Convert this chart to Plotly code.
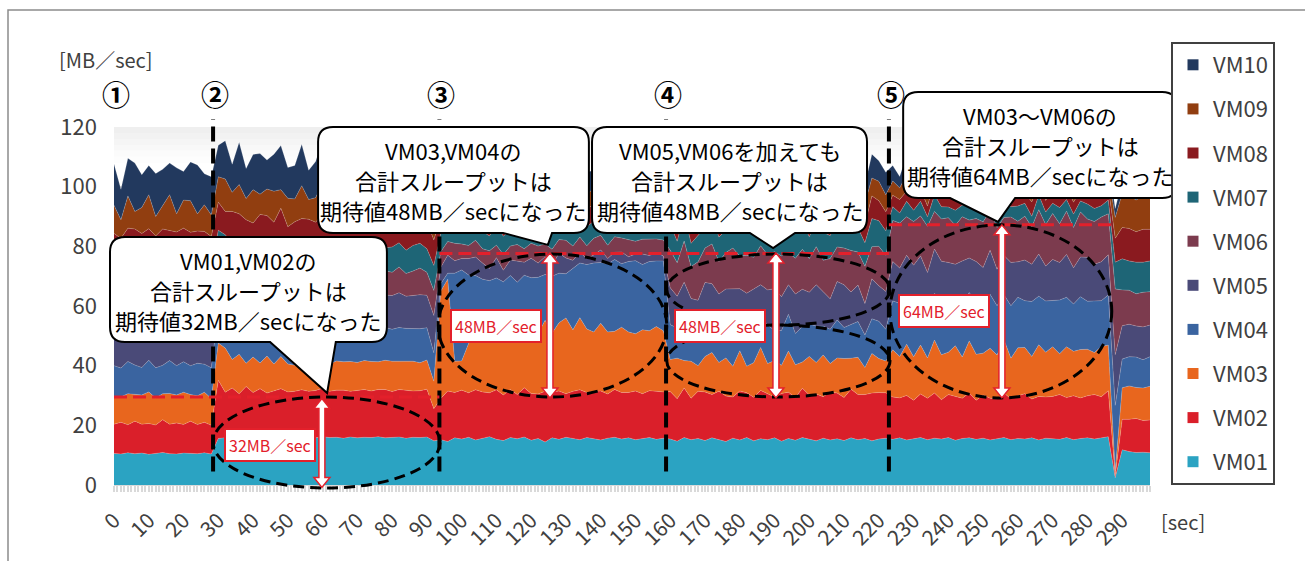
import plotly.graph_objects as go

# ---- data: per-VM throughput [MB/sec], sampled every 2 sec -------------------
seconds = list(range(0, 300, 2))

vm01 = ([10.6, 10.4, 10.8, 10.5, 10.7, 10.3, 10.6, 10.9, 10.5, 10.4, 10.7, 10.6, 10.5, 10.8, 10.4]
        + [15.6, 15.9, 16.1, 15.8, 16.0, 15.7, 16.2, 15.9, 15.8, 16.0, 16.1, 15.7, 15.9, 16.0, 15.8, 16.2,
           15.9, 16.0, 15.7, 16.1, 15.8, 16.0, 15.9, 16.2, 15.8, 15.9, 16.1, 15.7, 16.0, 15.9, 16.1, 14.8]
        + [15.2, 14.6, 15.8, 15.4, 16.0, 15.1, 15.7, 16.2, 15.3, 14.9, 15.9, 15.5, 16.1, 15.0, 15.6, 14.4,
           15.8, 15.3, 16.0, 15.5, 15.2, 15.9, 15.6, 15.1, 15.7, 16.0, 15.4, 15.8, 15.2, 15.6, 15.9, 15.3, 15.7]
        + [15.4, 14.7, 15.9, 15.2, 15.6, 14.9, 15.8, 15.3, 14.6, 15.7, 15.1, 15.9, 14.8, 15.5, 15.2, 15.8,
           14.7, 15.6, 15.0, 15.9, 15.3, 14.8, 15.7, 15.1, 15.5, 14.9, 15.8, 15.2, 15.6, 14.8, 15.4, 15.7]
        + [15.3, 15.8, 15.1, 15.6, 15.9, 15.2, 15.7, 15.4, 15.9, 15.0, 15.6, 15.8, 15.3, 15.7, 15.1, 15.5,
           15.9, 15.2, 15.6, 15.4, 15.8, 15.1, 15.7, 15.5, 15.3, 15.9, 15.2, 15.6, 15.8, 15.4, 15.7, 16.2]
        + [2.4] + [11.8, 11.2, 10.9, 11.0, 10.8])

vm02 = ([9.8, 10.6, 9.4, 10.9, 9.7, 10.3, 9.5, 11.0, 9.9, 10.4, 9.6, 10.8, 9.8, 10.2, 9.6]
        + [19.5, 15.2, 16.4, 14.8, 17.0, 15.3, 16.1, 14.9, 15.8, 16.3, 15.1, 15.7, 16.0, 15.4, 15.9, 16.2,
           15.5, 15.8, 16.1, 15.3, 15.9, 16.0, 15.6, 15.8, 16.2, 15.4, 15.9, 16.1, 15.5, 15.7, 16.0, 10.8]
        + [13.8, 16.9, 15.2, 16.4, 14.9, 16.8, 15.5, 14.7, 16.6, 15.3, 16.1, 14.8, 16.5, 15.7, 14.9, 17.0,
           15.4, 16.2, 14.6, 15.9, 16.7, 15.1, 15.8, 16.4, 14.8, 16.0, 15.6, 15.2, 16.3, 15.0, 15.7, 16.1, 15.5]
        + [15.9, 14.2, 16.6, 13.9, 15.8, 16.3, 14.5, 16.1, 15.2, 13.8, 16.4, 15.0, 14.6, 16.2, 15.4, 13.7,
           16.0, 15.5, 14.3, 16.5, 14.9, 15.7, 13.9, 16.1, 15.3, 14.4, 16.3, 15.1, 14.7, 16.0, 15.6, 15.2]
        + [14.2, 13.4, 14.9, 12.8, 14.6, 13.9, 15.1, 13.2, 14.4, 14.8, 13.5, 15.0, 13.1, 14.5, 14.0, 13.3,
           14.9, 13.7, 14.3, 15.2, 13.0, 14.6, 13.8, 14.2, 15.0, 13.4, 14.7, 13.6, 14.1, 14.9, 13.9, 15.4]
        + [0.8] + [10.2, 10.8, 11.4, 10.6, 11.0])

vm03 = ([9.2, 8.6, 10.4, 8.9, 9.8, 10.6, 9.1, 8.7, 10.3, 9.4, 10.8, 8.9, 9.6, 10.1, 9.0]
        + [12.5, 14.8, 9.6, 13.2, 7.8, 11.9, 8.6, 12.4, 9.0, 10.8, 9.4, 8.7, 9.9, 9.3, 9.6, 10.1,
           9.2, 9.8, 9.5, 10.0, 9.4, 9.7, 9.9, 9.3, 9.8, 10.2, 9.5, 9.6, 10.0, 9.4, 9.8, 9.2]
        + [36.0, 37.5, 10.5, 9.8, 16.5, 18.8, 19.6, 18.2, 20.4, 19.1, 18.6, 20.8, 19.4, 21.6, 20.2, 23.8,
           19.7, 22.9, 25.4, 20.6, 24.2, 21.3, 19.9, 22.7, 20.8, 19.5, 21.9, 20.3, 19.2, 21.4, 20.1, 21.7, 20.5]
        + [10.8, 13.6, 9.2, 12.4, 8.6, 11.9, 14.1, 9.7, 12.8, 10.3, 13.5, 8.9, 11.6, 14.4, 10.1, 12.2,
           9.4, 13.8, 11.0, 8.8, 12.9, 10.6, 14.0, 9.5, 11.8, 13.1, 10.4, 12.5, 9.1, 13.3, 11.4, 10.7]
        + [15.8, 13.9, 17.2, 14.6, 16.4, 13.5, 17.8, 15.1, 14.2, 16.9, 13.8, 17.5, 15.4, 14.0, 16.7, 14.8,
           17.9, 13.6, 16.1, 15.5, 14.3, 17.3, 15.0, 16.6, 13.7, 17.0, 14.9, 16.2, 15.6, 14.1, 16.8, 15.3]
        + [1.5] + [10.6, 11.2, 10.4, 10.9, 11.3])

vm04 = ([10.4, 9.6, 10.8, 9.9, 9.2, 10.6, 10.1, 9.5, 11.0, 9.8, 10.2, 9.7, 10.9, 9.4, 10.3]
        + [10.8, 11.4, 10.6, 11.2, 11.0, 10.7, 11.5, 10.9, 11.3, 10.8, 11.1, 11.6, 10.9, 11.2, 10.7, 11.4,
           11.0, 10.8, 11.3, 11.1, 10.9, 11.5, 10.8, 11.2, 11.0, 10.7, 11.3, 11.1, 10.9, 11.4, 10.8, 9.5]
        + [2.5, 2.0, 29.5, 30.5, 23.0, 19.5, 18.2, 19.4, 17.1, 18.8, 19.6, 16.9, 18.3, 17.2, 18.9, 15.4,
           19.1, 16.6, 14.8, 20.5, 18.3, 21.6, 23.1, 20.4, 22.8, 24.1, 21.3, 23.6, 24.5, 21.9, 23.2, 22.0, 23.4]
        + [11.6, 10.2, 12.8, 9.8, 12.1, 10.9, 11.4, 12.6, 10.3, 11.8, 9.9, 12.4, 11.1, 10.6, 12.9, 10.1,
           11.7, 12.3, 10.5, 11.9, 10.8, 12.2, 9.7, 11.5, 12.7, 10.4, 11.2, 12.0, 10.9, 11.6, 12.5, 10.6]
        + [16.4, 17.8, 15.2, 18.3, 16.0, 17.1, 15.6, 18.6, 16.7, 15.3, 17.9, 16.2, 17.4, 15.8, 18.1, 16.5,
           15.1, 17.6, 16.9, 15.7, 18.4, 16.3, 17.2, 15.5, 18.0, 16.6, 15.9, 17.7, 16.1, 17.3, 15.4, 16.8]
        + [22.0] + [9.6, 9.8, 10.2, 9.5, 9.9])

vm05 = ([11.2, 10.6, 11.5, 10.9, 11.8, 10.4, 11.1, 11.6, 10.7, 11.3, 10.5, 11.9, 10.8, 11.2, 11.0]
        + [11.2, 10.6, 11.8, 10.9, 11.4, 11.0, 10.7, 11.6, 11.1, 10.8, 11.5, 11.2, 10.6, 11.3, 11.7, 10.9,
           11.1, 11.4, 10.8, 11.6, 11.0, 10.7, 11.5, 11.2, 10.9, 11.3, 11.6, 10.8, 11.1, 11.4, 10.9, 12.5]
        + [5.5, 6.0, 4.2, 3.8, 5.5, 6.2, 5.4, 4.1, 6.8, 3.9, 5.2, 7.1, 4.4, 6.5, 4.8, 5.9,
           3.6, 6.7, 5.3, 2.8, 3.6, 1.9, 2.7, 4.2, 1.8, 2.4, 3.9, 1.6, 2.2, 3.5, 2.0, 2.8, 1.7]
        + [12.4, 10.6, 13.5, 11.2, 9.8, 13.9, 11.7, 10.3, 12.8, 14.2, 10.9, 12.1, 13.6, 10.4, 11.8, 14.0,
           11.3, 9.9, 13.2, 12.5, 10.7, 13.8, 11.5, 10.2, 12.9, 14.3, 11.0, 12.2, 10.5, 13.4, 11.9, 12.7]
        + [13.2, 11.8, 14.6, 12.4, 13.9, 11.5, 14.9, 12.7, 13.4, 12.0, 14.3, 11.6, 13.7, 12.9, 14.8, 12.2,
           13.1, 14.5, 11.9, 13.6, 12.5, 14.1, 11.7, 13.8, 12.6, 14.4, 12.1, 13.3, 14.7, 12.3, 13.0, 13.5]
        + [17.0] + [11.2, 10.9, 10.4, 11.0, 10.6])

vm06 = ([10.8, 11.4, 10.5, 11.7, 10.9, 11.2, 10.6, 11.5, 11.0, 10.7, 11.6, 10.9, 11.3, 10.6, 11.1]
        + [7.6, 8.4, 7.9, 8.8, 7.4, 8.2, 8.6, 7.7, 8.3, 8.9, 7.5, 8.1, 8.7, 7.8, 8.4, 7.6,
           8.5, 8.0, 7.7, 8.8, 7.9, 8.3, 7.5, 8.6, 8.1, 7.8, 8.7, 7.6, 8.2, 8.9, 7.7, 8.4]
        + [5.2, 4.6, 5.8, 4.9, 4.4, 5.6, 4.8, 5.9, 4.2, 5.3, 4.7, 5.5, 4.5, 5.0, 5.7, 4.3,
           5.4, 4.6, 5.9, 4.8, 5.1, 4.4, 5.6, 4.9, 4.5, 5.2, 4.7, 5.8, 4.3, 5.0, 5.5, 4.6, 5.3]
        + [12.6, 11.2, 13.8, 10.7, 12.9, 11.5, 13.3, 10.9, 12.2, 13.6, 11.0, 12.7, 10.6, 13.1, 11.8, 12.4,
           13.7, 10.8, 12.0, 13.4, 11.3, 12.8, 10.5, 13.5, 11.6, 12.3, 13.9, 11.1, 12.5, 10.8, 13.2, 12.1]
        + [13.8, 15.1, 12.9, 14.6, 13.4, 15.5, 12.6, 14.2, 15.0, 13.1, 14.8, 12.7, 14.4, 15.3, 13.3, 14.0,
           12.8, 15.2, 13.6, 14.7, 12.5, 14.9, 13.9, 15.4, 13.0, 14.5, 13.5, 15.1, 12.9, 14.3, 15.0, 13.7]
        + [22.0] + [12.0, 11.4, 10.8, 11.6, 11.2])

vm07 = ([11.0, 10.7, 11.6, 10.8, 11.3, 10.9, 11.5, 10.6, 11.2, 11.4, 10.8, 11.1, 10.7, 11.5, 10.9]
        + [8.2, 7.6, 8.7, 7.9, 8.4, 7.5, 8.8, 8.1, 7.7, 8.5, 8.0, 7.6, 8.9, 7.8, 8.3, 8.6,
           7.5, 8.2, 8.7, 7.9, 8.4, 7.6, 8.8, 8.0, 7.7, 8.5, 8.1, 7.8, 8.6, 8.3, 7.9, 8.4]
        + [6.3, 5.1, 6.7, 5.6, 5.3, 6.4, 5.8, 5.0, 6.6, 6.1, 5.4, 5.9, 6.5, 5.2, 6.0, 5.7,
           5.3, 6.8, 5.5, 6.2, 5.1, 6.4, 5.7, 5.4, 6.6, 5.9, 5.2, 6.3, 5.6, 6.0, 5.3, 6.5, 5.8]
        + [8.6, 7.2, 9.4, 7.8, 8.9, 6.9, 9.1, 8.2, 7.5, 9.6, 8.0, 7.4, 9.2, 8.5, 7.1, 8.8,
           9.5, 7.6, 8.3, 9.0, 7.3, 8.7, 9.3, 7.7, 8.4, 7.0, 9.1, 8.1, 7.9, 9.4, 8.6, 8.2]
        + [4.6, 3.4, 5.2, 3.8, 4.9, 3.2, 5.5, 4.1, 3.6, 5.0, 3.9, 4.7, 3.3, 5.3, 4.0, 3.7,
           4.8, 3.5, 5.1, 4.3, 3.6, 4.9, 4.2, 3.4, 5.4, 3.9, 4.5, 3.7, 5.0, 4.4, 3.8, 4.6]
        + [9.0] + [10.4, 9.8, 10.6, 10.1, 10.3])

vm08 = ([11.3, 10.8, 11.1, 12.2, 10.9, 11.6, 11.0, 12.0, 10.7, 11.4, 11.9, 10.8, 11.5, 11.2, 11.0]
        + [9.4, 7.8, 10.6, 8.3, 9.9, 7.5, 10.2, 8.8, 9.1, 10.7, 7.9, 9.6, 8.4, 10.3, 7.7, 9.8,
           8.9, 10.5, 8.1, 9.3, 10.0, 7.6, 9.7, 8.6, 10.4, 8.0, 9.5, 8.7, 10.1, 7.9, 9.2, 8.5]
        + [5.4, 6.0, 5.1, 6.3, 5.7, 5.2, 6.1, 5.5, 5.3, 6.4, 5.8, 5.0, 6.2, 5.6, 5.4, 5.9,
           6.3, 5.1, 5.7, 6.0, 5.3, 6.1, 5.5, 5.8, 5.2, 6.3, 5.6, 5.4, 6.0, 5.7, 5.1, 5.9, 5.5]
        + [6.2, 7.4, 5.8, 6.9, 7.6, 5.5, 6.7, 7.2, 6.0, 7.8, 6.4, 5.7, 7.1, 6.6, 7.5, 5.9,
           6.8, 7.3, 6.1, 7.0, 5.6, 7.7, 6.3, 6.9, 7.4, 5.8, 6.5, 7.2, 6.0, 7.6, 6.7, 6.4]
        + [3.8, 4.5, 3.4, 4.8, 4.1, 3.6, 4.6, 3.9, 4.3, 3.5, 4.9, 4.0, 3.7, 4.4, 3.3, 4.7,
           4.2, 3.8, 4.5, 3.6, 4.8, 4.1, 3.9, 4.6, 3.4, 4.3, 4.0, 3.7, 4.5, 4.2, 3.6, 4.4]
        + [8.0] + [10.5, 10.9, 10.2, 11.0, 10.6])

vm09 = ([9.5, 6.2, 10.8, 5.9, 8.7, 11.4, 6.5, 7.8, 12.0, 6.1, 9.4, 10.6, 5.8, 8.9, 7.2]
        + [8.5, 10.9, 6.4, 9.8, 7.1, 11.2, 6.8, 8.9, 10.4, 6.2, 9.5, 7.7, 11.0, 6.6, 8.2, 10.6,
           7.3, 9.9, 6.5, 8.8, 10.8, 7.0, 9.1, 6.9, 10.3, 7.5, 8.4, 11.1, 6.7, 9.6, 7.8, 8.6]
        + [5.6, 4.9, 5.8, 5.2, 5.0, 5.9, 5.3, 4.7, 5.7, 5.1, 6.0, 4.8, 5.4, 5.8, 5.0, 5.2,
           5.7, 4.9, 5.9, 5.3, 5.1, 4.7, 5.6, 6.0, 5.0, 5.4, 5.8, 4.8, 5.2, 5.7, 5.1, 4.9, 5.3]
        + [5.8, 6.9, 5.2, 7.1, 6.3, 5.5, 7.4, 6.0, 5.7, 6.8, 5.4, 7.2, 6.1, 5.6, 6.6, 7.3,
           5.3, 6.4, 7.0, 5.9, 6.2, 7.5, 5.6, 6.7, 5.1, 6.9, 6.3, 5.8, 7.1, 6.0, 6.5, 5.7]
        + [4.8, 3.9, 5.6, 4.3, 5.1, 3.7, 5.8, 4.5, 4.0, 5.4, 3.8, 5.0, 4.6, 5.9, 4.1, 4.7,
           3.6, 5.3, 4.4, 5.7, 3.9, 5.2, 4.2, 4.9, 5.5, 3.8, 4.6, 5.1, 4.3, 5.6, 4.0, 4.8]
        + [7.0] + [11.4, 11.0, 10.6, 11.2, 10.8])

vm10 = ([13.8, 10.2, 12.6, 16.2, 11.0, 9.8, 14.4, 12.2, 10.6, 15.4, 9.6, 13.0, 16.4, 10.4, 12.8]
        + [10.6, 12.8, 9.4, 14.2, 10.1, 11.8, 13.6, 9.7, 12.4, 14.8, 10.3, 11.2, 13.9, 9.8, 12.1, 14.5,
           10.7, 9.9, 13.4, 11.5, 12.9, 10.2, 14.1, 9.6, 11.7, 13.3, 10.5, 12.6, 9.9, 13.8, 11.1, 12.3]
        + [6.2, 7.4, 5.8, 6.9, 7.8, 5.6, 6.5, 7.2, 5.9, 6.7, 7.6, 6.1, 5.7, 7.0, 6.4, 7.9,
           5.8, 6.6, 7.3, 6.0, 6.8, 7.5, 5.9, 6.3, 7.1, 6.5, 5.7, 7.4, 6.2, 6.9, 7.7, 6.0, 6.6]
        + [6.4, 8.1, 5.7, 7.6, 8.8, 6.2, 7.3, 5.9, 8.4, 6.8, 7.9, 6.0, 8.6, 7.1, 5.8, 7.7,
           8.3, 6.5, 7.0, 8.9, 6.1, 7.4, 8.2, 5.6, 7.8, 6.6, 8.5, 7.2, 6.3, 8.0, 6.9, 7.5]
        + [5.2, 3.8, 6.4, 4.6, 3.5, 5.9, 4.2, 6.8, 3.9, 5.5, 4.8, 3.6, 6.2, 4.4, 5.7, 3.7,
           6.5, 4.9, 4.1, 5.8, 3.6, 6.1, 4.5, 5.3, 3.9, 6.6, 4.3, 5.0, 3.8, 5.6, 4.7, 4.0]
        + [3.0] + [4.2, 3.8, 4.6, 4.0, 4.4])

series_names = ["VM01", "VM02", "VM03", "VM04", "VM05", "VM06", "VM07", "VM08", "VM09", "VM10"]
series_values = [vm01, vm02, vm03, vm04, vm05, vm06, vm07, vm08, vm09, vm10]
series_colors = ["#2BA3C2", "#DA1F2A", "#E8661E", "#3A64A0", "#4A4A78",
                 "#7C3B4E", "#1E6576", "#8A1A1F", "#913E10", "#22395E"]

x_ticks = list(range(0, 300, 10))
y_ticks = [0, 20, 40, 60, 80, 100, 120]

# test phases (sec) and their numbered markers
phase_starts = [0, 28.5, 93.6, 158.8, 222.9]
phase_labels = ["①", "②", "③", "④", "⑤"]

# expected-throughput guide levels: (from sec, to sec, MB/sec)
guide_levels = [(0, 93.6, 29.5), (93.6, 222.9, 77.6), (222.9, 287.0, 87.2)]

# highlighted regions: (sec from, sec to, MB/sec low, MB/sec high)
ellipses = [(28.5, 93.8, -1.0, 29.5), (93.2, 159.0, 29.5, 77.4),
            (159.0, 223.2, 53.6, 77.4), (159.0, 223.2, 29.5, 53.6),
            (223.2, 287.0, 29.2, 87.2)]

# span arrows: (sec, MB/sec low, MB/sec high) and their labels
span_arrows = [(59.8, -0.8, 29.0), (125.4, 29.2, 77.8), (190.4, 29.2, 77.8), (255.4, 29.2, 87.2)]
span_labels = [("32MB／sec", 44.9, 13.4), ("48MB／sec", 109.9, 53.3),
               ("48MB／sec", 174.3, 53.3), ("64MB／sec", 238.7, 58.3)]

# speech bubbles: box (sec0, sec1, top, bottom), tail base (sec_l, sec_r), tip (sec, MB/sec), text
callouts = [
    ((-1.15, 78.5, 83.1, 47.9), (44.9, 63.8), (61.3, 30.8),
     ["VM01,VM02の", "合計スループットは", "期待値32MB／secになった"]),
    ((58.7, 136.6, 120.0, 84.5), (111.9, 126.0), (124.8, 80.5),
     ["VM03,VM04の", "合計スループットは", "期待値48MB／secになった"]),
    ((137.5, 216.6, 120.0, 84.5), (182.9, 195.9), (189.6, 79.4),
     ["VM05,VM06を加えても", "合計スループットは", "期待値48MB／secになった"]),
    ((227.0, 305.8, 131.7, 96.2), (240.5, 259.2), (254.3, 88.2),
     ["VM03～VM06の", "合計スループットは", "期待値64MB／secになった"]),
]

# ---- geometry helpers --------------------------------------------------------
X_MAX, Y_MAX = 298, 120
PLOT_W, PLOT_H = 1036, 358          # plotting area in px
FONT = "Noto Sans CJK JP"
RED = "#E3202B"
TEXT = "#404040"


def pt(t, v):
    """data (sec, MB/sec) -> paper coordinates"""
    return t / X_MAX, v / Y_MAX


def path_of(points):
    return "M" + " L".join(f"{x:.5f},{y:.5f}" for x, y in points) + " Z"


def bubble_path(box, base, tip, r=15):
    t0, t1, vt, vb = box
    x0, yt = pt(t0, vt)
    x1, yb = pt(t1, vb)
    rx, ry = r / PLOT_W, r / PLOT_H
    xl, xr = base[0] / X_MAX, base[1] / X_MAX
    tx, ty = pt(*tip)
    return (f"M{x0 + rx:.5f},{yt:.5f} L{x1 - rx:.5f},{yt:.5f} Q{x1:.5f},{yt:.5f} {x1:.5f},{yt - ry:.5f} "
            f"L{x1:.5f},{yb + ry:.5f} Q{x1:.5f},{yb:.5f} {x1 - rx:.5f},{yb:.5f} "
            f"L{xr:.5f},{yb:.5f} L{tx:.5f},{ty:.5f} L{xl:.5f},{yb:.5f} "
            f"L{x0 + rx:.5f},{yb:.5f} Q{x0:.5f},{yb:.5f} {x0:.5f},{yb + ry:.5f} "
            f"L{x0:.5f},{yt - ry:.5f} Q{x0:.5f},{yt:.5f} {x0 + rx:.5f},{yt:.5f} Z")


def double_arrow(t, v_lo, v_hi, shaft=3.0, head=8.0, head_len=10.0):
    x, y_lo = pt(t, v_lo)
    _, y_hi = pt(t, v_hi)
    hs, hh, hl = shaft / PLOT_W, head / PLOT_W, head_len / PLOT_H
    return path_of([(x, y_hi), (x + hh, y_hi - hl), (x + hs, y_hi - hl), (x + hs, y_lo + hl),
                    (x + hh, y_lo + hl), (x, y_lo), (x - hh, y_lo + hl), (x - hs, y_lo + hl),
                    (x - hs, y_hi - hl), (x - hh, y_hi - hl)])


# ---- figure ------------------------------------------------------------------
fig = go.Figure()

for name, vals, col in zip(series_names, series_values, series_colors):
    fig.add_trace(go.Scatter(
        x=seconds, y=vals, name=name, stackgroup="vm", mode="lines",
        line=dict(width=0.8, color="rgba(255,255,255,0.22)"),
        fillcolor=col, showlegend=False))

# square swatches for the legend, top entry = top layer
for name, col in reversed(list(zip(series_names, series_colors))):
    fig.add_trace(go.Scatter(
        x=[None], y=[None], mode="markers", name=name, legendgroup=name,
        marker=dict(symbol="square", size=11, color=col), showlegend=True))

shapes = []

# soft shading just under the top gridline
shade = ["#fdfdfd", "#fbfbfb", "#f8f8f8", "#f5f5f5", "#f2f2f2", "#efefef"]
for k, c in enumerate(shade):
    shapes.append(dict(type="rect", xref="x", yref="y", x0=0, x1=X_MAX,
                       y0=108 + 2 * k, y1=110 + 2 * k, fillcolor=c, line=dict(width=0),
                       layer="below"))

# phase boundaries
for t in phase_starts[1:]:
    x, y0 = pt(t, 4.5)
    _, y1 = pt(t, 122.7)
    shapes.append(dict(type="line", xref="paper", yref="paper", x0=x, x1=x, y0=y0, y1=y1,
                       line=dict(color="black", width=4, dash="15px,7px")))

# expected-value guides
for t0, t1, v in guide_levels:
    x0, y = pt(t0, v)
    x1, _ = pt(t1, v)
    shapes.append(dict(type="line", xref="paper", yref="paper", x0=x0, x1=x1, y0=y, y1=y,
                       line=dict(color=RED, width=3, dash="13px,6px")))

for t0, t1, v0, v1 in ellipses:
    x0, y0 = pt(t0, v0)
    x1, y1 = pt(t1, v1)
    shapes.append(dict(type="circle", xref="paper", yref="paper", x0=x0, x1=x1, y0=y0, y1=y1,
                       line=dict(color="black", width=3, dash="11px,6px")))

for t, v0, v1 in span_arrows:
    shapes.append(dict(type="path", xref="paper", yref="paper", path=double_arrow(t, v0, v1),
                       fillcolor="white", line=dict(color=RED, width=1.5)))

for box, base, tip, _ in callouts:
    shapes.append(dict(type="path", xref="paper", yref="paper", path=bubble_path(box, base, tip),
                       fillcolor="white", line=dict(color="black", width=2)))

# outer frame
shapes.append(dict(type="rect", xref="paper", yref="paper",
                   x0=(8 - 114) / PLOT_W, x1=(1312 - 114) / PLOT_W,
                   y0=(485 - 575) / PLOT_H, y1=(485 - 10) / PLOT_H,
                   line=dict(color="#8c8c8c", width=1.5), fillcolor="rgba(0,0,0,0)"))

annotations = []


def label(x, y, text, size, color, **kw):
    d = dict(x=x, y=y, xref="paper", yref="paper", text=text, showarrow=False,
             xanchor="center", yanchor="middle", font=dict(family=FONT, size=size, color=color))
    d.update(kw)
    annotations.append(d)


for t, lab in zip(phase_starts, phase_labels):
    x, y = pt(t, 131.0)
    label(x, y, f"<b>{lab}</b>", 28, "black", xshift=2)

for box, base, tip, lines in callouts:
    t0, t1, vt, vb = box
    x, y = pt((t0 + t1) / 2, (vt + vb) / 2)
    for line, shift in zip(lines, (30, 0, -30)):
        label(x, y, line, 22, "black", yshift=shift)

for text, t, v in span_labels:
    x, y = pt(t, v)
    label(x, y, text, 16, RED, bgcolor="white", bordercolor=RED, borderwidth=2, borderpad=3)

label((57 - 114) / PLOT_W, (485 - 60) / PLOT_H, "[MB／sec]", 20, TEXT, xanchor="left")
label((1183 - 114) / PLOT_W, (485 - 521) / PLOT_H, "[sec]", 20, TEXT)

fig.update_layout(
    width=1305, height=561,
    margin=dict(l=114, r=155, t=127, b=76, pad=0, autoexpand=False),
    paper_bgcolor="white", plot_bgcolor="white",
    font=dict(family=FONT, color=TEXT),
    shapes=shapes, annotations=annotations,
    showlegend=True,
    legend=dict(x=(1171 - 114) / PLOT_W, y=(485 - 42) / PLOT_H, xanchor="left", yanchor="top",
                xref="paper", yref="paper", maxheight=560,
                bordercolor=TEXT, borderwidth=2, bgcolor="white",
                font=dict(family=FONT, size=22, color=TEXT),
                traceorder="grouped", tracegroupgap=12.5, itemwidth=30),
    xaxis=dict(range=[0, X_MAX], tickmode="array", tickvals=x_ticks, tickangle=-45,
               tickfont=dict(family=FONT, size=21, color=TEXT), automargin=False,
               ticks="outside", ticklen=6, tickwidth=2, tickcolor="#d9d9d9",
               minor=dict(tickmode="linear", tick0=0, dtick=1, ticks="outside", ticklen=6,
                          tickwidth=1.5, tickcolor="#d9d9d9", showgrid=False),
               showgrid=False, zeroline=False, showline=True, linecolor="#d9d9d9", linewidth=1,
               ticklabelstandoff=8),
    yaxis=dict(range=[0, Y_MAX], tickmode="array", tickvals=y_ticks,
               tickfont=dict(family=FONT, size=22, color=TEXT), automargin=False,
               showgrid=True, gridcolor="#d9d9d9", gridwidth=1.5, zeroline=False,
               ticks="", showline=False, ticklabelstandoff=16),
)

fig.write_html("out.html", config={"displayModeBar": False})
